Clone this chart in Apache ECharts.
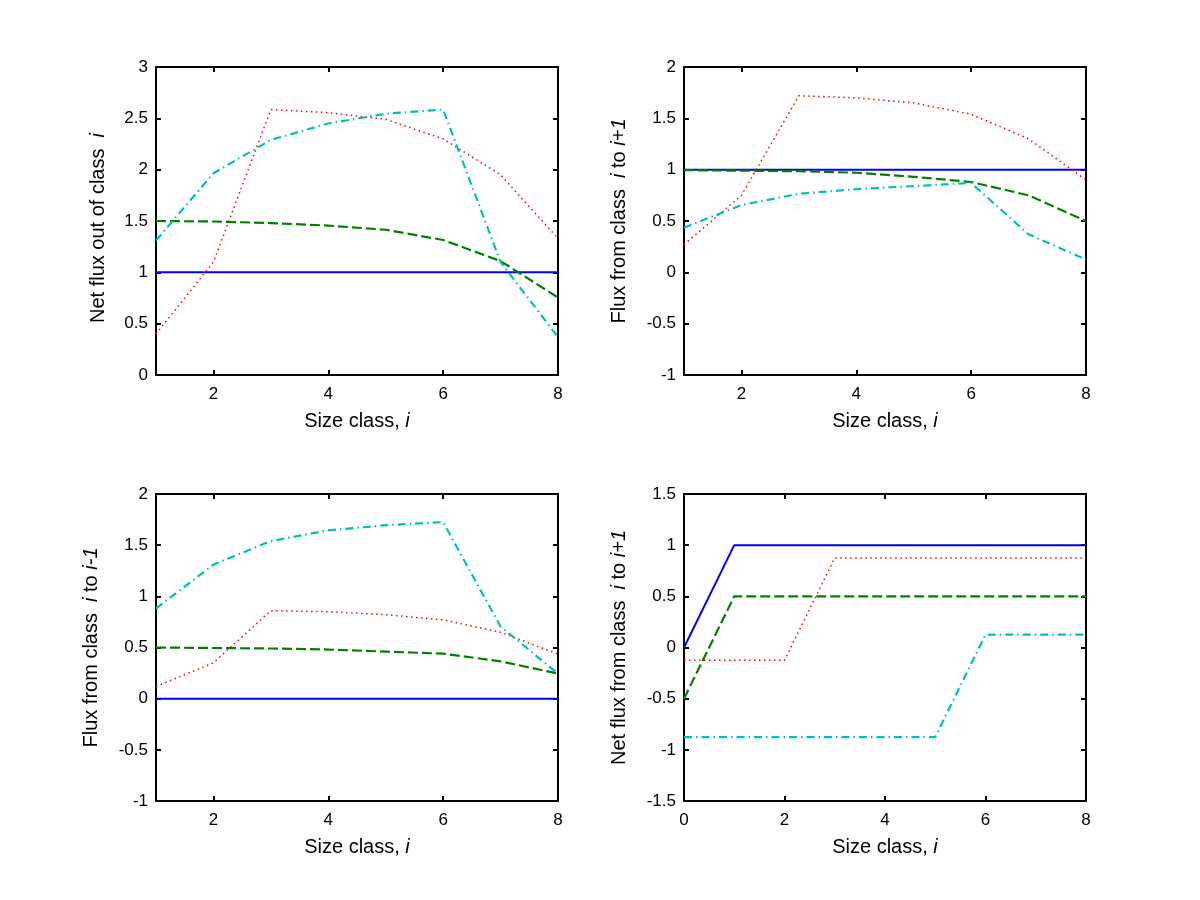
<!DOCTYPE html>
<html>
<head>
<meta charset="utf-8">
<script src="https://cdn.jsdelivr.net/npm/echarts@6/dist/echarts.min.js"></script>
<style>
html,body{margin:0;padding:0;background:#fff;}
#c{width:1200px;height:900px;}
</style>
</head>
<body>
<div id="c"></div>
<script>
// ---------- data ----------
const sizeClass = [1, 2, 3, 4, 5, 6, 7, 8];
const sizeClass0 = [0, 1, 2, 3, 4, 5, 6, 7, 8];
const xTicks = [2, 4, 6, 8];

// panel 1: Net flux out of class i
const p1Blue  = [1, 1, 1, 1, 1, 1, 1, 1];
const p1Green = [1.50, 1.495, 1.48, 1.455, 1.415, 1.315, 1.11, 0.755];
const p1Red   = [0.40, 1.10, 2.585, 2.555, 2.49, 2.30, 1.95, 1.33];
const p1Cyan  = [1.31, 1.965, 2.29, 2.45, 2.545, 2.585, 1.10, 0.37];

// panel 2: Flux from class i to i+1
const p2Blue  = [1, 1, 1, 1, 1, 1, 1, 1];
const p2Green = [0.995, 0.99, 0.985, 0.97, 0.93, 0.88, 0.75, 0.50];
const p2Red   = [0.27, 0.75, 1.72, 1.70, 1.65, 1.54, 1.30, 0.90];
const p2Cyan  = [0.435, 0.655, 0.765, 0.81, 0.84, 0.87, 0.37, 0.125];

// panel 3: Flux from class i to i-1
const p3Blue  = [0, 0, 0, 0, 0, 0, 0, 0];
const p3Green = [0.50, 0.495, 0.49, 0.48, 0.46, 0.44, 0.365, 0.245];
const p3Red   = [0.12, 0.35, 0.86, 0.85, 0.82, 0.77, 0.65, 0.435];
const p3Cyan  = [0.88, 1.31, 1.54, 1.645, 1.695, 1.725, 0.705, 0.245];

// panel 4: Net flux from class i to i+1
const p4Blue  = [0, 1, 1, 1, 1, 1, 1, 1, 1];
const p4Green = [-0.5, 0.5, 0.5, 0.5, 0.5, 0.5, 0.5, 0.5, 0.5];
const p4Red   = [-0.125, -0.125, -0.125, 0.875, 0.875, 0.875, 0.875, 0.875, 0.875];
const p4Cyan  = [-0.875, -0.875, -0.875, -0.875, -0.875, -0.875, 0.125, 0.125, 0.125];

const xLabel = 'Size class, ';
const yLabels = [
  ['Net flux out of class  ', 'i', '', ''],
  ['Flux from class  ', 'i', ' to ', 'i+1'],
  ['Flux from class  ', 'i', ' to ', 'i-1'],
  ['Net flux from class  ', 'i', ' to ', 'i+1']
];
const yRanges = [[0, 3], [-1, 2], [-1, 2], [-1.5, 1.5]];

// ---------- styling ----------
const FONT = 'Liberation Sans, Arial, sans-serif';
const FS = 17;
const FN = 20;
const grids = [
  {left: 156, top: 67, width: 402, height: 308},
  {left: 684, top: 67, width: 402, height: 308},
  {left: 156, top: 494, width: 402, height: 307},
  {left: 684, top: 494, width: 402, height: 307}
];
const yNameGaps = [48, 55, 55, 55];

const rich = {
  n: {fontFamily: FONT, fontSize: FN, color: '#000'},
  it: {fontFamily: FONT, fontSize: FN, color: '#000', fontStyle: 'italic'},
  itp: {fontFamily: FONT, fontSize: FN, color: '#000', fontStyle: 'italic', padding: [0, 14, 0, 0]}
};
function yName(p, g) {
  const endStyle = (g === 0) ? 'itp' : 'it';
  let s = '{n|' + p[0] + '}{' + (p[3] ? 'it' : endStyle) + '|' + p[1] + '}';
  if (p[2]) s += '{n|' + p[2] + '}';
  if (p[3]) s += '{it|' + p[3] + '}';
  return s;
}

const lineAxis = {show: true, onZero: false, lineStyle: {color: '#000', width: 2}};
const tickStyle = {lineStyle: {color: '#000', width: 2}};

const xAxes = [], yAxes = [], series = [];
for (let g = 0; g < 4; g++) {
  const isBR = g === 3;
  const xmin = isBR ? 0 : 1;
  const baseX = {
    type: 'value', gridIndex: g, min: xmin, max: 8,
    axisLine: lineAxis, splitLine: {show: false}
  };
  const tickCfg = isBR ? {interval: 2} : {};
  const xb = Object.assign({}, baseX, tickCfg, {
    position: 'bottom',
    axisTick: Object.assign({show: true, inside: true, length: 5}, tickStyle, isBR ? {} : {customValues: xTicks}),
    axisLabel: Object.assign({show: true, margin: 11, color: '#000', fontFamily: FONT, fontSize: FS,
      showMinLabel: true, showMaxLabel: true}, isBR ? {} : {customValues: xTicks}),
    name: '{n|' + xLabel + '}{it|i}',
    nameLocation: 'middle', nameGap: 36,
    nameTextStyle: {rich: rich}
  });
  const xt = Object.assign({}, baseX, tickCfg, {
    position: 'top',
    axisTick: Object.assign({show: true, inside: true, length: 5}, tickStyle, isBR ? {} : {customValues: xTicks}),
    axisLabel: {show: false}
  });
  xAxes.push(xb, xt);

  const [ymin, ymax] = yRanges[g];
  const baseY = {
    type: 'value', gridIndex: g, min: ymin, max: ymax, interval: 0.5,
    axisLine: lineAxis, splitLine: {show: false}
  };
  const yl = Object.assign({}, baseY, {
    position: 'left',
    axisTick: Object.assign({show: true, inside: true, length: 5}, tickStyle),
    axisLabel: {show: true, margin: 8, color: '#000', fontFamily: FONT, fontSize: FS,
      showMinLabel: true, showMaxLabel: true},
    name: yName(yLabels[g], g),
    nameLocation: 'middle', nameGap: yNameGaps[g],
    nameTextStyle: {rich: rich}
  });
  const yr = Object.assign({}, baseY, {
    position: 'right',
    axisTick: Object.assign({show: true, inside: true, length: 5}, tickStyle),
    axisLabel: {show: false}
  });
  yAxes.push(yl, yr);
}

const panels = [
  [sizeClass, p1Blue, p1Green, p1Red, p1Cyan],
  [sizeClass, p2Blue, p2Green, p2Red, p2Cyan],
  [sizeClass, p3Blue, p3Green, p3Red, p3Cyan],
  [sizeClass0, p4Blue, p4Green, p4Red, p4Cyan]
];
const styles = [
  {color: '#0000ff', width: 2, type: 'solid'},
  {color: '#008000', width: 2.2, type: [10, 4]},
  {color: '#ff0000', width: 1.5, type: [1.5, 3.5]},
  {color: '#00bfbf', width: 2.2, type: [8, 4, 1.5, 4]}
];
panels.forEach((p, g) => {
  const xs = p[0];
  for (let k = 1; k <= 4; k++) {
    const ys = p[k];
    series.push({
      type: 'line', xAxisIndex: 2 * g, yAxisIndex: 2 * g,
      data: xs.map((x, i) => [x, ys[i]]),
      symbol: 'none', silent: true, animation: false,
      lineStyle: Object.assign({cap: 'butt'}, styles[k - 1]),
      z: 2 + k
    });
  }
});

const chart = echarts.init(document.getElementById('c'), null, {renderer: 'canvas'});
chart.setOption({
  backgroundColor: '#ffffff',
  animation: false,
  grid: grids,
  xAxis: xAxes,
  yAxis: yAxes,
  series: series
});
</script>
</body>
</html>
